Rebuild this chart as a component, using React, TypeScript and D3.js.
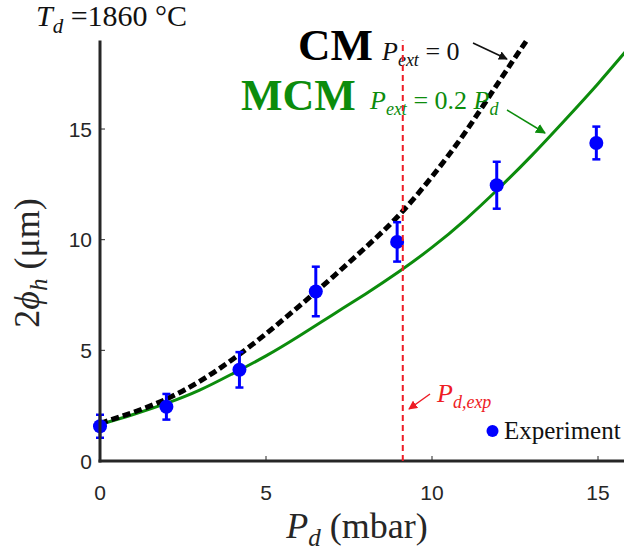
import React from 'react';
import * as d3 from 'd3';

// Experiment points (x, y, half error bar)
const expX = [0, 2, 4.2, 6.5, 8.95, 11.95, 14.95];
const expY = [1.57, 2.45, 4.12, 7.66, 9.9, 12.46, 14.37];
const expErr = [0.52, 0.58, 0.8, 1.12, 0.89, 1.06, 0.74];

// CM model, P_ext = 0
const cmX = [0, 1, 2, 3, 4, 5, 6, 7, 8, 9, 10, 11, 12, 12.85];
const cmY = [1.7, 2.2, 2.8, 3.6, 4.6, 5.75, 7.0, 8.3, 9.65, 11.1, 12.85, 14.85, 17.1, 19.0];

// MCM model, P_ext = 0.2 P_d
const mcmX = [0, 1, 2, 3, 4, 5, 6, 7, 8, 9, 10, 11, 12, 13, 14, 15, 16];
const mcmY = [1.65, 2.1, 2.6, 3.2, 3.95, 4.75, 5.65, 6.6, 7.55, 8.55, 9.65, 10.9, 12.3, 13.8, 15.4, 17.05, 18.8];

const xTicks = [0, 5, 10, 15];
const yTicks = [0, 5, 10, 15];
const pdExp = 9.12;

const W = 624;
const H = 556;

const serif = '"Liberation Serif", "Times New Roman", serif';
const sans = '"Liberation Sans", Arial, sans-serif';
const green = '#0c8c0c';
const red = '#ee1c25';
const blue = '#0000ff';
const axisColor = '#262626';

export default function App() {
  const x = d3.scaleLinear().domain([0, 16]).range([100, 100 + 16 * 33.2]);
  const y = d3.scaleLinear().domain([0, 19]).range([461, 40.5]);

  const line = d3.line<[number, number]>()
    .x(d => x(d[0]))
    .y(d => y(d[1]))
    .curve(d3.curveNatural);

  const cmPath = line(cmX.map((v, i) => [v, cmY[i]]) as [number, number][]) || '';
  const mcmPath = line(mcmX.map((v, i) => [v, mcmY[i]]) as [number, number][]) || '';

  return (
    <svg width={W} height={H} style={{ position: 'absolute', left: 0, top: 0, background: '#fff' }}>
      <defs>
        <marker id="ahBlack" viewBox="0 0 10 10" refX="9" refY="5" markerWidth="9" markerHeight="9" orient="auto" markerUnits="userSpaceOnUse">
          <path d="M0,0 L10,5 L0,10 z" fill="#111" />
        </marker>
        <marker id="ahGreen" viewBox="0 0 10 10" refX="9" refY="5" markerWidth="10" markerHeight="10" orient="auto" markerUnits="userSpaceOnUse">
          <path d="M0,0 L10,5 L0,10 z" fill={green} />
        </marker>
        <marker id="ahRed" viewBox="0 0 10 10" refX="9" refY="5" markerWidth="9" markerHeight="9" orient="auto" markerUnits="userSpaceOnUse">
          <path d="M0,0 L10,5 L0,10 z" fill={red} />
        </marker>
      </defs>

      {/* title */}
      <text x={36} y={26} fontFamily={serif} fontSize={30} fill="#111">
        <tspan fontStyle="italic">T</tspan>
        <tspan fontStyle="italic" fontSize={21} dy={7}>d</tspan>
        <tspan dy={-7}> =1860 °C</tspan>
      </text>

      {/* ticks */}
      {yTicks.map(t => (
        <g key={'y' + t}>
          <line x1={x(0)} x2={x(0) + 5} y1={y(t)} y2={y(t)} stroke={axisColor} strokeWidth={1} />
          <text x={92} y={y(t)} dy="0.36em" textAnchor="end" fontFamily={sans} fontSize={21} fill={axisColor}>{t}</text>
        </g>
      ))}
      {xTicks.map(t => (
        <g key={'x' + t}>
          <line x1={x(t)} x2={x(t)} y1={y(0)} y2={y(0) - 5} stroke={axisColor} strokeWidth={1} />
          <text x={x(t)} y={500} textAnchor="middle" fontFamily={sans} fontSize={21} fill={axisColor}>{t}</text>
        </g>
      ))}

      {/* model curves */}
      <path d={mcmPath} fill="none" stroke={green} strokeWidth={3} />
      <path d={cmPath} fill="none" stroke="#000" strokeWidth={5} strokeDasharray="8,4" />

      {/* experiment */}
      {expX.map((v, i) => (
        <g key={'e' + i}>
          <line x1={x(v)} x2={x(v)} y1={y(expY[i] - expErr[i])} y2={y(expY[i] + expErr[i])} stroke={blue} strokeWidth={3} />
          <line x1={x(v) - 4} x2={x(v) + 4} y1={y(expY[i] - expErr[i])} y2={y(expY[i] - expErr[i])} stroke={blue} strokeWidth={2.5} />
          <line x1={x(v) - 4} x2={x(v) + 4} y1={y(expY[i] + expErr[i])} y2={y(expY[i] + expErr[i])} stroke={blue} strokeWidth={2.5} />
          <circle cx={x(v)} cy={y(expY[i])} r={7} fill={blue} />
        </g>
      ))}

      {/* axes spines */}
      <line x1={x(0)} x2={x(0)} y1={y(19)} y2={y(0) + 1.5} stroke={axisColor} strokeWidth={3} />
      <line x1={x(0) - 1.5} x2={W} y1={y(0)} y2={y(0)} stroke={axisColor} strokeWidth={3} />

      {/* annotations */}
      <text x={298} y={60} fontFamily={serif} fontSize={45} fontWeight="bold" fill="#000">CM</text>
      <text x={382} y={60} fontFamily={serif} fontSize={26} fill="#111">
        <tspan fontStyle="italic">P</tspan>
        <tspan fontStyle="italic" fontSize={18} dy={6}>ext</tspan>
        <tspan dy={-6}> = 0</tspan>
      </text>
      <line x1={473} y1={43} x2={507} y2={59} stroke="#111" strokeWidth={1.5} markerEnd="url(#ahBlack)" />

      <text x={241} y={110} fontFamily={serif} fontSize={44} fontWeight="bold" fill={green}>MCM</text>
      <text x={370} y={109} fontFamily={serif} fontSize={26} fill={green}>
        <tspan fontStyle="italic">P</tspan>
        <tspan fontStyle="italic" fontSize={18} dy={6}>ext</tspan>
        <tspan dy={-6}> = 0.2 </tspan>
        <tspan fontStyle="italic">P</tspan>
        <tspan fontStyle="italic" fontSize={18} dy={6}>d</tspan>
      </text>
      <line x1={507} y1={110} x2={545} y2={133} stroke={green} strokeWidth={1.5} markerEnd="url(#ahGreen)" />

      {/* P_d,exp */}
      <line x1={x(pdExp)} x2={x(pdExp)} y1={y(0)} y2={y(19)} stroke={red} strokeWidth={2} strokeDasharray="6,4" />
      <text x={437} y={402} fontFamily={serif} fontSize={26} fill={red} fontStyle="italic">
        <tspan>P</tspan>
        <tspan fontSize={18} dy={6}>d,exp</tspan>
      </text>
      <line x1={430} y1={394} x2={409} y2={409} stroke={red} strokeWidth={1.5} markerEnd="url(#ahRed)" />

      {/* legend */}
      <circle cx={492.5} cy={431} r={6} fill={blue} />
      <text x={504} y={439} fontFamily={serif} fontSize={25} fill="#111">Experiment</text>

      {/* axis labels */}
      <text x={357} y={538} textAnchor="middle" fontFamily={serif} fontSize={36} fill={axisColor}>
        <tspan fontStyle="italic">P</tspan>
        <tspan fontStyle="italic" fontSize={25} dy={8}>d</tspan>
        <tspan dy={-8}> (mbar)</tspan>
      </text>
      <text transform="translate(39,263) rotate(-90)" textAnchor="middle" fontFamily={serif} fontSize={36} fill={axisColor}>
        <tspan>2</tspan>
        <tspan fontStyle="italic">ϕ</tspan>
        <tspan fontStyle="italic" fontSize={25} dy={8}>h</tspan>
        <tspan dy={-8}> (μm)</tspan>
      </text>
    </svg>
  );
}
